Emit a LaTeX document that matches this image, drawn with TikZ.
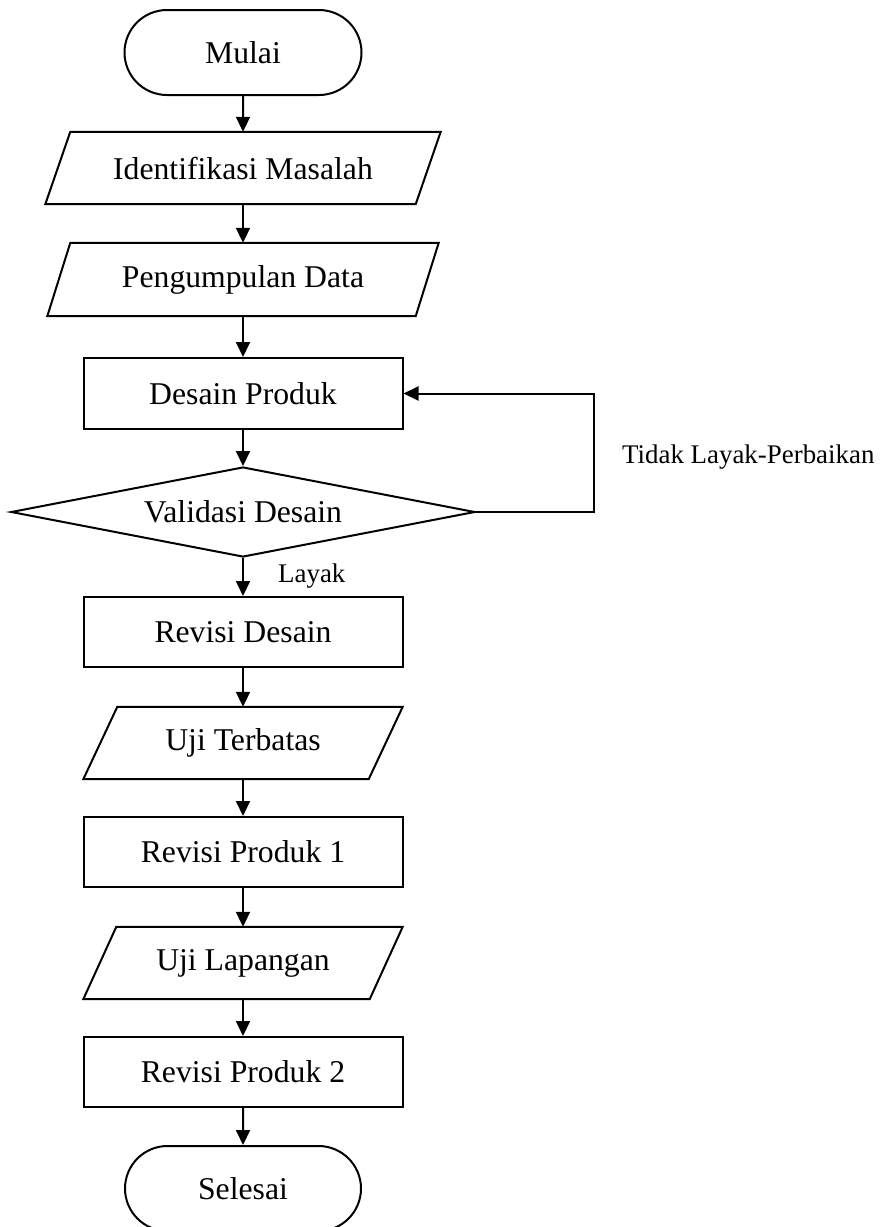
\documentclass[tikz,border=0pt]{standalone}
\usepackage{fontspec}
\setmainfont{Liberation Serif}
\usetikzlibrary{arrows.meta,shapes.geometric,shapes.misc}
\newcommand\paraoutline[2]{\draw[shapeline] ([xshift=-#2]#1.south west) -- ([xshift=#2]#1.north west) -- ([xshift=#2]#1.north east) -- ([xshift=-#2]#1.south east) -- cycle;}
\begin{document}
\begin{tikzpicture}[x=1pt,y=-1pt,
  shapeline/.style={draw=black, line width=2pt},
  mainfont/.style={font=\fontsize{31.7pt}{38pt}\selectfont},
  terminal/.style={rounded rectangle, shapeline, mainfont, minimum width=237pt, minimum height=85pt, inner sep=0pt},
  process/.style={rectangle, shapeline, mainfont, minimum width=319pt, minimum height=71pt, inner sep=0pt},
  iobox/.style={rectangle, mainfont, minimum height=72pt, inner sep=0pt},
  decision/.style={diamond, shapeline, mainfont, minimum width=464pt, minimum height=90pt, inner sep=0pt, shape aspect=5},
  arr/.style={line width=2pt, -{Triangle[length=15pt,width=14pt]}},
  lbl/.style={font=\fontsize{26.9pt}{32pt}\selectfont, inner sep=0pt, anchor=west}]
\fill[white] (0,0) rectangle (892,1227);
\useasboundingbox (0,0) rectangle (892,1227);
\clip (0,0) rectangle (892,1227);

\node[terminal] (mulai) at (243,52.5) {Mulai};
\node[iobox, minimum width=370pt] (ident) at (243,168) {Identifikasi Masalah};
\paraoutline{ident}{12.5pt}
\node[iobox, minimum width=368pt, minimum height=73pt] (kumpul) at (243,279.5) {Pengumpulan Data};
\paraoutline{kumpul}{11.5pt}
\node[process] (desain) at (243,393.5) {Desain Produk};
\node[decision] (valid) at (243,512) {Validasi Desain};
\node[process, minimum height=70pt] (revdes) at (243,632) {Revisi Desain};
\node[iobox, minimum width=285pt] (ujiterb) at (243,743) {Uji Terbatas};
\paraoutline{ujiterb}{17pt}
\node[process, minimum height=70pt] (revp1) at (243,852) {Revisi Produk 1};
\node[iobox, minimum width=286pt] (ujilap) at (243,963) {Uji Lapangan};
\paraoutline{ujilap}{16.5pt}
\node[process, minimum height=70pt] (revp2) at (243,1072) {Revisi Produk 2};
\node[terminal, minimum width=236pt] (selesai) at (243,1188.5) {Selesai};

\node[lbl] (layak) at (278,576) {Layak};
\node[lbl] (tidak) at (622,457) {Tidak Layak-Perbaikan};

\draw[arr] (mulai) -- (ident);
\draw[arr] (ident) -- (kumpul);
\draw[arr] (kumpul) -- (desain);
\draw[arr] (desain) -- (valid);
\draw[arr] (valid) -- (revdes);
\draw[arr] (revdes) -- (ujiterb);
\draw[arr] (ujiterb) -- (revp1);
\draw[arr] (revp1) -- (ujilap);
\draw[arr] (ujilap) -- (revp2);
\draw[arr] (revp2) -- (selesai);

\coordinate (loopc) at (594,512);
\draw[arr] (valid.east) -- (loopc) |- (desain.east);
\end{tikzpicture}
\end{document}
